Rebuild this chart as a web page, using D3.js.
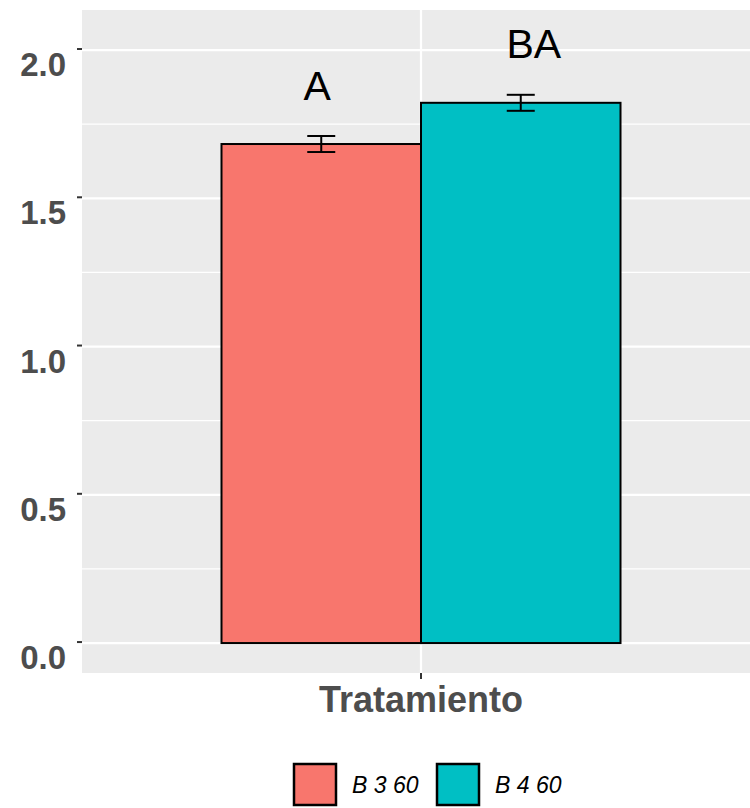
<!DOCTYPE html>
<html>
<head>
<meta charset="utf-8">
<script src="https://cdn.jsdelivr.net/npm/d3@7"></script>
<style>
  body { margin: 0; background: #fff; }
  svg { display: block; }
</style>
</head>
<body>
<svg id="chart" width="750" height="808"></svg>
<script>
// Mean values per treatment with standard error and significance letters
const groups = ["B 3 60", "B 4 60"];
const means = [1.683, 1.822];
const errors = [0.027, 0.027];
const letters = ["A", "BA"];
const colors = ["#F8766D", "#00BFC4"];
const yTicks = [0, 0.5, 1.0, 1.5, 2.0];
const yMinor = [0.25, 0.75, 1.25, 1.75];
const xCategory = "Tratamiento";

// Horizontal nudge of each letter label (layout only)
const letterShift = [-4, 13];

const svg = d3.select("#chart");
const font = "Liberation Sans, Arial, sans-serif";

// Panel geometry
const panel = { left: 82, right: 760, top: 10, bottom: 673 };

const y = d3.scaleLinear()
  .domain([-0.101, 2.135])
  .range([panel.bottom, panel.top]);

// Dodged bars within the single x category
const xCenter = 421;
const barWidth = 199.5;
const xBand = d3.scaleBand()
  .domain(groups)
  .range([xCenter - barWidth, xCenter + barWidth])
  .padding(0);

// Panel background
svg.append("rect")
  .attr("x", panel.left).attr("y", panel.top)
  .attr("width", panel.right - panel.left)
  .attr("height", panel.bottom - panel.top)
  .attr("fill", "#EBEBEB");

// Minor grid
svg.append("g").selectAll("line").data(yMinor).join("line")
  .attr("x1", panel.left).attr("x2", panel.right)
  .attr("y1", d => y(d)).attr("y2", d => y(d))
  .attr("stroke", "#fff").attr("stroke-width", 1.1);

// Major grid
svg.append("g").selectAll("line").data(yTicks).join("line")
  .attr("x1", panel.left).attr("x2", panel.right)
  .attr("y1", d => y(d)).attr("y2", d => y(d))
  .attr("stroke", "#fff").attr("stroke-width", 2.2);

// Vertical major grid line at the category
svg.append("line")
  .attr("x1", xCenter).attr("x2", xCenter)
  .attr("y1", panel.top).attr("y2", panel.bottom)
  .attr("stroke", "#fff").attr("stroke-width", 2.2);

// Bars
svg.append("g").selectAll("rect").data(groups).join("rect")
  .attr("x", d => xBand(d))
  .attr("y", (d, i) => y(means[i]))
  .attr("width", xBand.bandwidth())
  .attr("height", (d, i) => y(0) - y(means[i]))
  .attr("fill", (d, i) => colors[i])
  .attr("stroke", "#000")
  .attr("stroke-width", 2);

// Error bars
const capHalf = 14;
const eb = svg.append("g").attr("stroke", "#000").attr("stroke-width", 2);
groups.forEach((g, i) => {
  const cx = xBand(g) + xBand.bandwidth() / 2;
  const top = y(means[i] + errors[i]);
  const bot = y(means[i] - errors[i]);
  eb.append("line").attr("x1", cx).attr("x2", cx).attr("y1", top).attr("y2", bot);
  eb.append("line").attr("x1", cx - capHalf).attr("x2", cx + capHalf).attr("y1", top).attr("y2", top);
  eb.append("line").attr("x1", cx - capHalf).attr("x2", cx + capHalf).attr("y1", bot).attr("y2", bot);
});

// Significance letters
svg.append("g").selectAll("text").data(groups).join("text")
  .attr("x", (d, i) => xBand(d) + xBand.bandwidth() / 2 + letterShift[i])
  .attr("y", (d, i) => y(means[i] + errors[i]) - 36.5)
  .attr("text-anchor", "middle")
  .attr("font-family", font)
  .attr("font-size", 41)
  .attr("fill", "#000")
  .text((d, i) => letters[i]);

// Y axis ticks and labels
const yAxis = svg.append("g");
yAxis.selectAll("line").data(yTicks).join("line")
  .attr("x1", panel.left - 5).attr("x2", panel.left)
  .attr("y1", d => y(d) - 1).attr("y2", d => y(d) - 1)
  .attr("stroke", "#333").attr("stroke-width", 2);
yAxis.selectAll("text").data(yTicks).join("text")
  .attr("x", 66)
  .attr("y", d => y(d) + 26)
  .attr("text-anchor", "end")
  .attr("font-family", font)
  .attr("font-weight", "bold")
  .attr("font-size", 33)
  .attr("fill", "#4D4D4D")
  .text(d => d3.format(".1f")(d));

// X axis tick and label
svg.append("line")
  .attr("x1", xCenter).attr("x2", xCenter)
  .attr("y1", panel.bottom).attr("y2", panel.bottom + 6)
  .attr("stroke", "#333").attr("stroke-width", 2);
svg.append("text")
  .attr("x", xCenter)
  .attr("y", 712)
  .attr("text-anchor", "middle")
  .attr("font-family", font)
  .attr("font-weight", "bold")
  .attr("font-size", 36)
  .attr("fill", "#4D4D4D")
  .text(xCategory);

// Legend
const legendX = [294, 437];
const legend = svg.append("g");
groups.forEach((g, i) => {
  legend.append("rect")
    .attr("x", legendX[i]).attr("y", 764)
    .attr("width", 42).attr("height", 41)
    .attr("fill", colors[i])
    .attr("stroke", "#000").attr("stroke-width", 2.5);
  legend.append("text")
    .attr("x", legendX[i] + 58).attr("y", 793)
    .attr("font-family", font)
    .attr("font-style", "italic")
    .attr("font-size", 23)
    .attr("fill", "#000")
    .text(g);
});
</script>
</body>
</html>
